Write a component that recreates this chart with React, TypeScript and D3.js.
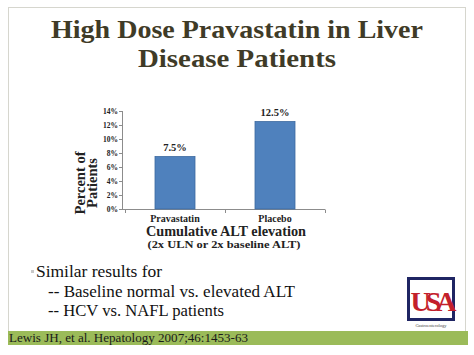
import React from "react";
import * as d3 from "d3";

const categories = ["Pravastatin", "Placebo"];
const values = [7.5, 12.5];
const valueLabels = ["7.5%", "12.5%"];
const yTicks = [0, 2, 4, 6, 8, 10, 12, 14];
const titleLines = ["High Dose Pravastatin in Liver", "Disease Patients"];
const bulletLines = ["Similar results for", "-- Baseline normal vs. elevated ALT", "-- HCV vs. NAFL patients"];
const bulletWidths = [126, 247, 176];
const citation = "Lewis JH, et al.  Hepatology 2007;46:1453-63";

export default function App() {
  const W = 474, H = 355;
  const x = d3.scaleBand().domain(categories).range([125, 325]).paddingInner(0.6).paddingOuter(0.3);
  const y = d3.scaleLinear().domain([0, 14]).range([209, 111]);
  const serif = "'Liberation Serif', 'DejaVu Serif', serif";
  const titleColor = "#3f3b27";
  const bw = x.bandwidth();
  return (
    <svg width={W} height={H} style={{ position: "absolute", left: 0, top: 0 }}>
      <rect x={0} y={0} width={W} height={H} fill="#ffffff" />
      <rect x={8.5} y={7.5} width={457} height={324} fill="#ffffff" stroke="#d6d6ce" strokeWidth={1} />
      {titleLines.map((t, i) => (
        <text key={i} x={237} y={38 + i * 29} textAnchor="middle" fontFamily={serif} fontWeight="bold"
          fontSize={25} fill={titleColor}
          textLength={i === 0 ? 372 : 198} lengthAdjust="spacingAndGlyphs">{t}</text>
      ))}
      {/* axes */}
      <line x1={122.5} x2={122.5} y1={y(14)} y2={y(0)} stroke="#8c8c8c" />
      {yTicks.map((t) => (
        <g key={t}>
          <line x1={119} x2={122.5} y1={Math.round(y(t)) + 0.5} y2={Math.round(y(t)) + 0.5} stroke="#8c8c8c" />
          <text x={118} y={y(t) + 2.8} textAnchor="end" fontFamily={serif} fontWeight="bold" fontSize={7.5} fill="#222">{t}%</text>
        </g>
      ))}
      <line x1={122} x2={325} y1={209.5} y2={209.5} stroke="#8c8c8c" />
      {[125, 225, 325].map((t) => (
        <line key={t} x1={t + 0.5} x2={t + 0.5} y1={209.5} y2={213} stroke="#8c8c8c" />
      ))}
      {categories.map((c, i) => (
        <g key={c}>
          <rect x={x(c)!} y={y(values[i])} width={bw} height={y(0) - y(values[i])} fill="#4f81bd" stroke="#3d6aa0" strokeWidth={0.8} />
          <text x={x(c)! + bw / 2} y={y(values[i]) - 6} textAnchor="middle" fontFamily={serif} fontWeight="bold" fontSize={10.5} fill="#222">{valueLabels[i]}</text>
          <text x={x(c)! + bw / 2} y={222} textAnchor="middle" fontFamily={serif} fontWeight="bold" fontSize={10} fill="#222">{c}</text>
        </g>
      ))}
      <text transform="translate(90,183) rotate(-90)" textAnchor="middle" fontFamily={serif} fontWeight="bold" fontSize={14.5} fill="#222">
        <tspan x={0} dy={-5}>Percent of</tspan>
        <tspan x={0} dy={12}>Patients</tspan>
      </text>
      <text x={226} y={236} textAnchor="middle" fontFamily={serif} fontWeight="bold" fontSize={14.5} fill="#222" textLength={160} lengthAdjust="spacingAndGlyphs">Cumulative ALT elevation</text>
      <text x={224} y={248} textAnchor="middle" fontFamily={serif} fontWeight="bold" fontSize={11} fill="#222" textLength={153} lengthAdjust="spacingAndGlyphs">(2x ULN or 2x baseline ALT)</text>
      {/* bullets */}
      <rect x={31} y={270} width={3} height={3} fill="#c8c8c8" />
      {bulletLines.map((t, i) => (
        <text key={i} x={i === 0 ? 36 : 48} y={277 + i * 19.5} fontFamily={serif} fontSize={17} fill="#111"
          textLength={bulletWidths[i]} lengthAdjust="spacingAndGlyphs">{t}</text>
      ))}
      {/* logo */}
      <rect x={408.5} y={278.5} width={45} height={41} fill="#fff" stroke="#1f2563" strokeWidth={3} />
      <text x={431} y={311} textAnchor="middle" fontFamily={serif} fontWeight="bold" fontSize={28} fill="#c3202b" letterSpacing={-5}>USA</text>
      <text x={431} y={327} textAnchor="middle" fontFamily={serif} fontSize={4.5} fill="#444">Gastroenterology</text>
      {/* footer */}
      <rect x={8} y={331} width={460} height={14} fill="#9bbb59" />
      <text x={9} y={342} fontFamily={serif} fontSize={13} fill="#1a1a1a" textLength={239} lengthAdjust="spacingAndGlyphs">{citation}</text>
    </svg>
  );
}
